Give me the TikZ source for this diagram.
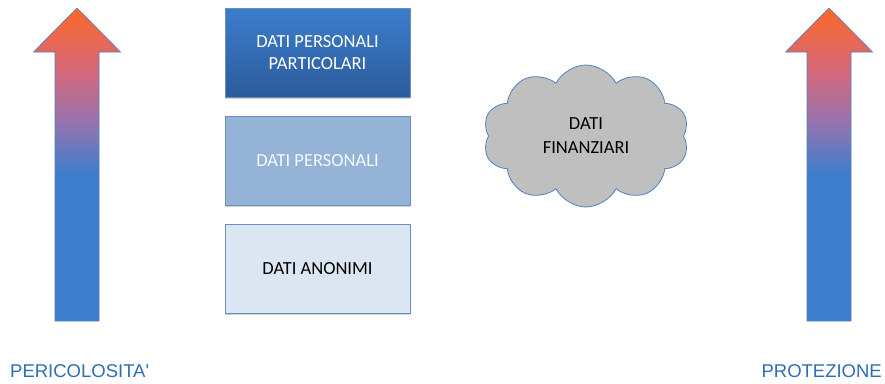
\documentclass[tikz,border=0pt]{standalone}
\usepackage{fontspec}
\setmainfont{Carlito}
\newfontfamily\labelfont{Liberation Sans}
\usetikzlibrary{shapes.symbols,shadows}
\definecolor{arroworange}{RGB}{250, 104, 40}
\definecolor{arrowpink}{RGB}{214, 104, 122}
\definecolor{arrowpurple}{RGB}{148, 116, 176}
\definecolor{arrowblue}{RGB}{60, 125, 204}
\definecolor{arrowline}{RGB}{79, 129, 189}
\definecolor{darkbox}{RGB}{44, 92, 156}
\definecolor{midbox}{RGB}{149, 179, 215}
\definecolor{lightbox}{RGB}{220, 230, 242}
\definecolor{boxline}{RGB}{108, 142, 191}
\definecolor{cloudgray}{RGB}{191, 191, 191}
\definecolor{labelblue}{RGB}{46, 110, 180}
\pgfdeclareverticalshading{riskgrad}{100bp}{color(0bp)=(arrowblue); color(25bp)=(arrowblue); color(48.5bp)=(arrowblue); color(56.5bp)=(arrowpurple); color(65bp)=(arrowpink); color(75bp)=(arroworange); color(100bp)=(arroworange)}
\tikzset{
  databox/.style={draw=boxline, line width=0.8pt, minimum width=185pt, minimum height=89pt,
    inner sep=0pt, align=center, font=\fontsize{18.5}{22}\selectfont,
    drop shadow={shadow xshift=0pt, shadow yshift=-1.5pt, opacity=0.35}},
  sidelabel/.style={font=\labelfont\fontsize{18.5}{22}\selectfont, text=labelblue, inner sep=0pt}
}

\begin{document}
\begin{tikzpicture}[x=1pt, y=-1pt]
  \useasboundingbox (0, 0) rectangle (885, 383);
  % arrows
  \foreach \ax in {77, 829} {
    \shadedraw [shading=riskgrad, draw=arrowline, line width=0.6pt]
      (\ax, 8) -- (\ax+43.5, 52) -- (\ax+22, 52) -- (\ax+22, 321) -- (\ax-22, 321)
      -- (\ax-22, 52) -- (\ax-43.5, 52) -- cycle;
  }
  % boxes
  \node [databox, top color=arrowblue, bottom color=darkbox, text=white] (partic) at (317.5, 52.5) {DATI PERSONALI\\PARTICOLARI};
  \node [databox, fill=midbox, text=white!92!midbox] (person) at (317.5, 160.5) {DATI PERSONALI};
  \node [databox, fill=lightbox, text=black] (anonim) at (317.5, 268.5) {DATI ANONIMI};
  % cloud
  \node [cloud, cloud puffs=10, cloud puff arc=125, aspect=1.45, draw=arrowline, line width=0.8pt, fill=cloudgray,
    minimum width=206pt, minimum height=142pt, align=center, inner sep=0pt,
    font=\fontsize{18.5}{24}\selectfont] (finanz) at (586, 136) {DATI\\FINANZIARI};
  % labels
  \node [sidelabel, anchor=base west] (peric) at (10, 377) {PERICOLOSITA'};
  \node [sidelabel, anchor=base east] (protez) at (882, 377) {PROTEZIONE};
\end{tikzpicture}
\end{document}
